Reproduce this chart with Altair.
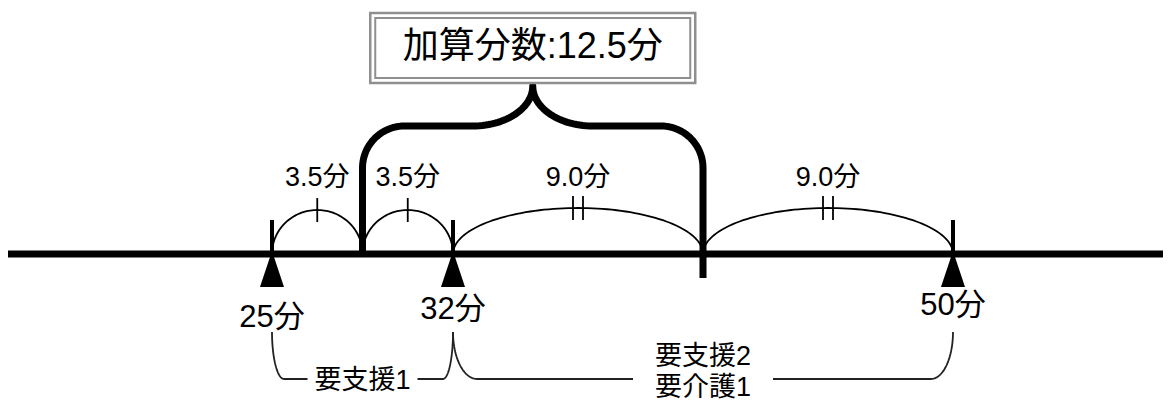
import altair as alt
import numpy as np
import pandas as pd

# ---------------- data ----------------
THRESH_MIN = [25, 32, 50]
THRESH_LABEL = ["25分", "32分", "50分"]
SEG_START = [25, 28.5, 32, 41]
SEG_END = [28.5, 32, 41, 50]
SEG_LABEL = ["3.5分", "3.5分", "9.0分", "9.0分"]
SEG_MARKS = [1, 1, 2, 2]
BONUS_RANGE = [28.5, 41]
BONUS_LABEL = "加算分数:12.5分"
LEVEL_START = [25, 32]
LEVEL_END = [32, 50]
LEVEL_LINES = [["要支援1"], ["要支援2", "要介護1"]]

# ---------------- layout / style ----------------
W, H = 1155, 393
X_DOMAIN = [25, 32, 50]
X_RANGE = [264, 445, 945]
FONT = "'Liberation Sans', 'Noto Sans CJK JP', sans-serif"

BASE_Y = 246
TICK_TOP = 212
TRI_Y = 261
THRESH_LABEL_Y = [310, 302, 298]
ARC_H = [44, 44, 46, 46]
ARC_MARK_HALF = 12
DOUBLE_GAP = 5
SEG_LABEL_Y = 170
BRACE_TOP = 118
BRACE_APEX = 78
BRACE_R = 42
BRACE_APEX_RX = 60
BRACE_RIGHT_BOTTOM = 270
BOX_CY = 40
BOX_OUTER = (162.5, 35)
BOX_INNER = (157.5, 30)
LVL_TIP_Y = 324
LVL_LINE_Y = 371
LVL_RX_LEFT = [12, 24]
LVL_RX_RIGHT = [10, 22]
LVL_GAP = [55, 70]
LVL_TEXT_Y = [[373], [349, 380]]


def m2px(m):
    return float(np.interp(m, X_DOMAIN, X_RANGE))


def px2m(p):
    return float(np.interp(p, X_RANGE, X_DOMAIN))


XS = alt.Scale(domain=X_DOMAIN, range=X_RANGE, zero=False, nice=False)
YS = alt.Scale(domain=[0, H], range=[0, H], zero=False, nice=False)


def X(f="x"):
    return alt.X(f"{f}:Q", scale=XS, axis=None)


def Y(f="y"):
    return alt.Y(f"{f}:Q", scale=YS, axis=None)


# ---- main line ----
main_line = alt.Chart(pd.DataFrame({"a": [0]})).mark_rule(
    color="black", strokeWidth=7, strokeCap="butt"
).encode(x=alt.value(0), x2=alt.value(W), y=alt.value(BASE_Y))

# ---- threshold ticks, triangles, labels ----
thr = pd.DataFrame({
    "x": THRESH_MIN,
    "label": THRESH_LABEL,
    "y1": [TICK_TOP] * 3,
    "y2": [BASE_Y] * 3,
    "ty": [TRI_Y] * 3,
    "ly": THRESH_LABEL_Y,
})
thr_ticks = alt.Chart(thr).mark_rule(color="black", strokeWidth=4, strokeCap="butt").encode(
    x=X(), y=Y("y1"), y2="y2:Q")
thr_tri = alt.Chart(thr).mark_point(
    shape="M0,-1L0.667,1L-0.667,1Z", size=1296, filled=True, color="black",
    opacity=1, strokeWidth=0).encode(x=X(), y=Y("ty"))
thr_text = alt.Chart(thr).mark_text(
    font=FONT, fontSize=31, color="black", align="center", baseline="middle").encode(
    x=X(), y=Y("ly"), text="label:N")

# ---- segment arcs ----
rows = []
for i, (s, e) in enumerate(zip(SEG_START, SEG_END)):
    t = np.linspace(0, np.pi, 81)
    mid, half = (s + e) / 2, (e - s) / 2
    for k, tt in enumerate(t):
        rows.append({"seg": i, "o": k, "x": mid - half * np.cos(tt),
                     "y": BASE_Y - ARC_H[i] * np.sin(tt)})
arcs_df = pd.DataFrame(rows)
arcs = alt.Chart(arcs_df).mark_line(color="black", strokeWidth=1.8).encode(
    x=X(), y=Y(), detail="seg:N", order="o:Q")

seg = pd.DataFrame({
    "x": [(s + e) / 2 for s, e in zip(SEG_START, SEG_END)],
    "label": SEG_LABEL,
    "marks": SEG_MARKS,
    "y1": [BASE_Y - h - ARC_MARK_HALF for h in ARC_H],
    "y2": [BASE_Y - h + ARC_MARK_HALF for h in ARC_H],
    "ly": [SEG_LABEL_Y] * 4,
})
single = seg[seg["marks"] == 1]
double = seg[seg["marks"] == 2]
mk1 = alt.Chart(single).mark_rule(color="black", strokeWidth=1.8).encode(
    x=X(), y=Y("y1"), y2="y2:Q")
mk2a = alt.Chart(double).mark_rule(color="black", strokeWidth=1.8, xOffset=-DOUBLE_GAP).encode(
    x=X(), y=Y("y1"), y2="y2:Q")
mk2b = alt.Chart(double).mark_rule(color="black", strokeWidth=1.8, xOffset=DOUBLE_GAP).encode(
    x=X(), y=Y("y1"), y2="y2:Q")
seg_text = alt.Chart(seg).mark_text(
    font=FONT, fontSize=27, color="black", align="center", baseline="middle").encode(
    x=X(), y=Y("ly"), text="label:N")

# ---- big brace ----
xl, xr = m2px(BONUS_RANGE[0]), m2px(BONUS_RANGE[1])
xc = (xl + xr) / 2
left = [(xl, BASE_Y), (xl, BRACE_TOP + BRACE_R)]
for th in np.linspace(np.pi, 1.5 * np.pi, 25)[1:]:
    left.append((xl + BRACE_R + BRACE_R * np.cos(th), BRACE_TOP + BRACE_R + BRACE_R * np.sin(th)))
left.append((xc - BRACE_APEX_RX, BRACE_TOP))
for ph in np.linspace(0, 0.5 * np.pi, 30)[1:]:
    left.append((xc - BRACE_APEX_RX + BRACE_APEX_RX * np.sin(ph),
                 BRACE_APEX + (BRACE_TOP - BRACE_APEX) * np.cos(ph)))
right = [(2 * xc - px, py) for px, py in reversed(left[1:-1])]
right.append((xr, BRACE_RIGHT_BOTTOM))
brace_pts = left + right
brace_df = pd.DataFrame({"o": range(len(brace_pts)),
                         "x": [px2m(p[0]) for p in brace_pts],
                         "y": [p[1] for p in brace_pts]})
brace = alt.Chart(brace_df).mark_line(
    color="black", strokeWidth=7, strokeJoin="round", strokeCap="butt").encode(
    x=X(), y=Y(), order="o:Q")

# ---- label box ----
box_df = pd.DataFrame({
    "x": [px2m(xc - BOX_OUTER[0]), px2m(xc - BOX_INNER[0])],
    "x2": [px2m(xc + BOX_OUTER[0]), px2m(xc + BOX_INNER[0])],
    "y": [BOX_CY - BOX_OUTER[1], BOX_CY - BOX_INNER[1]],
    "y2": [BOX_CY + BOX_OUTER[1], BOX_CY + BOX_INNER[1]],
})
box_outer = alt.Chart(box_df.iloc[[0]]).mark_rect(
    fill="white", stroke="#8f8f8f", strokeWidth=2.5).encode(
    x=X(), x2="x2:Q", y=Y(), y2="y2:Q")
box_inner = alt.Chart(box_df.iloc[[1]]).mark_rect(
    fill="white", stroke="#8f8f8f", strokeWidth=2).encode(
    x=X(), x2="x2:Q", y=Y(), y2="y2:Q")
box_text = alt.Chart(pd.DataFrame({"x": [px2m(xc)], "y": [BOX_CY - 1], "t": [BONUS_LABEL]})).mark_text(
    font=FONT, fontSize=36, color="black", align="center", baseline="middle").encode(
    x=X(), y=Y(), text="t:N")

# ---- level brackets ----
lrows = []
trows = []
for k, (s, e) in enumerate(zip(LEVEL_START, LEVEL_END)):
    a, b = m2px(s), m2px(e)
    c = (a + b) / 2
    rl, rr = LVL_RX_LEFT[k], LVL_RX_RIGHT[k]
    dy = LVL_LINE_Y - LVL_TIP_Y
    pl = [(a + rl - rl * np.cos(th), LVL_TIP_Y + dy * np.sin(th))
          for th in np.linspace(0, 0.5 * np.pi, 30)]
    pl.append((c - LVL_GAP[k], LVL_LINE_Y))
    pr = [(c + LVL_GAP[k], LVL_LINE_Y)]
    pr += [(b - rr + rr * np.cos(th), LVL_TIP_Y + dy * np.sin(th))
           for th in np.linspace(0.5 * np.pi, 0, 30)]
    for side, pts in (("L", pl), ("R", pr)):
        for o, (px, py) in enumerate(pts):
            lrows.append({"g": f"{k}{side}", "o": o, "x": px2m(px), "y": py})
    for j, line in enumerate(LEVEL_LINES[k]):
        trows.append({"x": (s + e) / 2, "y": LVL_TEXT_Y[k][j], "t": line})
lvl_lines = alt.Chart(pd.DataFrame(lrows)).mark_line(color="#222222", strokeWidth=1.8).encode(
    x=X(), y=Y(), detail="g:N", order="o:Q")
lvl_text = alt.Chart(pd.DataFrame(trows)).mark_text(
    font=FONT, fontSize=27, color="black", align="center", baseline="middle").encode(
    x=X(), y=Y(), text="t:N")

chart = alt.layer(
    arcs, mk1, mk2a, mk2b, seg_text,
    brace, box_outer, box_inner, box_text,
    main_line, thr_ticks, thr_tri, thr_text,
    lvl_lines, lvl_text,
).properties(
    width=W, height=H, padding=0, autosize=alt.AutoSizeParams(type="none"),
    background="white",
).configure_view(strokeWidth=0)

chart.save("out.html", embed_options={"renderer": "svg", "actions": False})
